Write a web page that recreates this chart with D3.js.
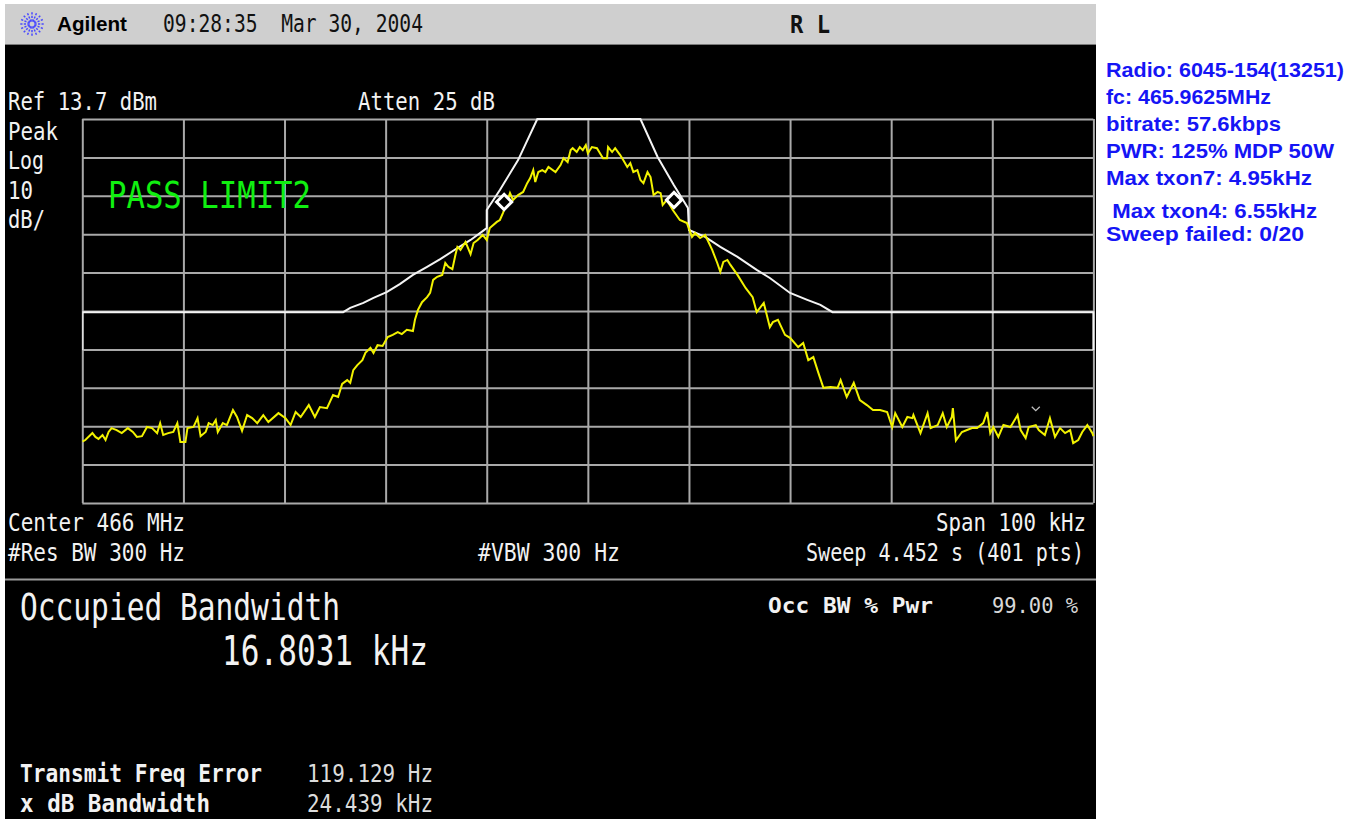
<!DOCTYPE html>
<html><head><meta charset="utf-8">
<script src="https://cdn.jsdelivr.net/npm/d3@7/dist/d3.min.js"></script>
<style>body{margin:0;background:#fff;}svg{display:block}</style>
</head><body>
<svg id="c" width="1357" height="819"></svg>
<script>
// ---------- data ----------
const refLevelDbm = 13.7;
const bottomLevelDbm = -86.3;
const freqTicksKHz = [-50, -40, -30, -20, -10, 0, 10, 20, 30, 40, 50];
const levelTicksDbm = [13.7, 3.7, -6.3, -16.3, -26.3, -36.3, -46.3, -56.3, -66.3, -76.3, -86.3];

const traceFreqKHz = [
-50.0,-49.7,-49.0,-48.7,-48.4,-48.0,-47.7,-47.4,-47.1,-46.6,-46.1,-45.5,-45.0,-44.6,-44.1,-43.6,-43.1,-42.6,-42.3,-42.0,
-41.5,-41.0,-40.6,-40.3,-39.8,-39.6,-39.0,-38.6,-38.3,-37.8,-37.5,-37.1,-36.8,-36.6,-36.1,-35.7,-35.1,-34.7,-34.2,-33.7,
-33.2,-32.7,-32.1,-31.6,-30.6,-29.9,-29.4,-28.9,-28.4,-27.6,-27.0,-26.5,-25.8,-25.2,-24.7,
-24.3,-23.8,-23.5,-23.2,-22.8,-22.3,-22.0,-21.5,-21.2,-20.8,-20.3,-19.8,-19.3,-18.8,-18.4,-17.9,-17.3,-17.1,-16.8,-16.4,
-15.9,-15.6,-15.3,-14.9,-14.4,-14.1,-13.8,-13.4,-13.1,-12.9,-12.6,-12.1,-11.6,-11.3,-10.9,-10.4,-10.0,-9.7,-9.0,-8.7,-8.4,
-8.0,-7.7,-7.4,-6.9,-6.4,-6.0,-5.7,-5.4,-5.2,-4.9,-4.5,-4.2,-3.9,-3.2,-2.7,-2.4,-2.0,-1.7,-1.5,-1.1,-0.8,-0.5,-0.2,0.0,
0.4,0.9,1.2,1.5,1.9,2.0,2.4,2.7,3.2,3.5,3.9,4.2,4.5,4.9,5.2,5.5,5.9,6.2,6.5,6.9,7.2,7.4,7.8,8.4,
9.1,9.8,10.3,10.6,11.1,11.6,12.3,12.8,13.1,13.4,13.8,14.1,14.8,15.6,16.3,16.7,17.4,18.0,18.3,18.8,19.5,20.0,20.8,21.3,
21.8,22.3,22.8,23.3,24.0,24.7,25.0,25.6,26.3,26.9,27.6,28.2,28.9,29.6,
30.1,30.4,31.1,31.6,32.1,32.2,32.9,33.6,33.9,34.6,35.1,35.5,36.0,36.1,36.4,37.0,37.5,38.0,38.5,39.1,39.5,39.8,40.1,40.6,
41.1,41.8,42.5,42.8,43.3,43.6,44.3,44.6,45.2,45.7,46.2,46.7,47.2,47.7,48.0,48.5,48.9,49.4,49.9,50.0];

const traceDbm = [
-70.3,-69.9,-68.1,-69.1,-69.6,-68.6,-69.9,-67.8,-66.8,-67.3,-68.1,-66.8,-67.8,-69.1,-68.9,-66.5,-66.8,-68.1,-65.5,-68.6,
-68.1,-67.8,-65.5,-70.4,-70.4,-66.8,-66.5,-64.2,-68.9,-67.8,-65.5,-66.0,-64.7,-67.8,-65.5,-66.0,-62.1,-63.9,-67.5,-63.4,
-64.2,-65.5,-63.4,-65.2,-62.9,-64.2,-66.0,-62.6,-63.9,-60.8,-63.9,-61.3,-61.6,-58.2,-58.7,
-55.3,-54.3,-55.0,-51.7,-50.4,-49.1,-47.2,-45.9,-47.2,-45.2,-45.4,-43.1,-42.5,-41.8,-42.3,-41.2,-41.5,-38.6,-36.0,-34.0,
-32.7,-31.6,-28.2,-27.4,-26.9,-23.8,-24.8,-25.4,-21.7,-19.6,-20.4,-18.3,-21.5,-18.6,-17.8,-16.5,-17.8,-14.7,-13.1,-12.6,-10.8,
-7.9,-5.6,-7.4,-6.1,-5.3,-3.0,-1.7,0.4,-2.7,-0.1,0.4,-0.1,1.2,-0.1,1.7,3.5,2.5,5.6,6.1,5.1,6.4,5.6,6.9,4.8,
6.4,6.1,4.8,3.5,3.5,6.4,5.1,6.1,4.3,3.0,1.2,2.2,-0.1,0.4,-2.2,-3.0,-0.1,-1.4,-6.1,-5.3,-5.6,-8.7,-7.4,-10.0,
-12.6,-13.4,-17.0,-16.0,-17.3,-16.5,-20.4,-23.8,-26.1,-23.5,-23.0,-24.3,-26.9,-30.3,-32.7,-36.6,-34.2,-40.5,-39.2,-38.6,-42.5,-43.3,-45.7,-44.6,
-49.1,-48.3,-52.4,-56.3,-56.1,-56.3,-54.3,-58.7,-55.0,-59.5,-60.8,-62.1,-62.1,-62.6,
-66.5,-62.9,-66.5,-63.9,-64.2,-63.4,-68.1,-62.9,-66.8,-66.0,-62.9,-66.5,-63.9,-61.6,-70.0,-67.8,-67.3,-66.8,-66.8,-65.5,-62.6,-68.1,-66.5,-69.1,
-66.0,-66.5,-63.4,-67.3,-69.4,-66.5,-66.0,-67.3,-68.6,-64.2,-69.1,-66.8,-68.1,-67.3,-70.7,-69.9,-67.8,-66.0,-68.1,-68.9];

const limitFreqKHz = [-50,-50,-24.2,-23.5,-22.2,-21.2,-19.9,-18.6,-17.3,-15.9,-14.6,-12.9,-11.6,-10.4,-10.0,-10.0,-8.7,-6.9,-5.0,
  5.2,6.9,8.5,9.9,10.0,11.6,13.1,14.8,16.7,18.0,20.0,21.7,23.0,24.2,50,50];
const limitDbm = [-46.5,-36.6,-36.6,-35.5,-34.2,-32.9,-31.4,-29.3,-26.9,-24.8,-22.8,-19.9,-17.8,-15.5,-14.7,-10.0,-4.8,3.0,13.7,
  13.7,3.8,-3.5,-9.5,-15.2,-17.0,-19.6,-22.2,-25.6,-27.7,-31.6,-33.4,-34.7,-36.6,-36.6,-46.5];

const obwMarkerFreqKHz = [-8.28, 8.52];
const obwMarkerDbm = [-7.9, -7.4];
const peakMarkFreqKHz = [44.3];
const peakMarkDbm = [-62.0];

const headerTexts = ["Agilent", "09:28:35  Mar 30, 2004", "R L"];
const sideNotes = ["Radio: 6045-154(13251)", "fc: 465.9625MHz", "bitrate: 57.6kbps", "PWR: 125% MDP 50W",
  "Max txon7: 4.95kHz", " Max txon4: 6.55kHz", "Sweep failed: 0/20"];

// ---------- drawing ----------
const svg = d3.select("#c");
const MONO = "'DejaVu Sans Mono', 'Liberation Mono', monospace";
const SANS = "'Liberation Sans', Arial, sans-serif";

function txt(x, y, s, o) {
  o = o || {};
  const t = svg.append("text").attr("x", x).attr("y", y).text(s)
    .attr("font-family", o.family || MONO)
    .attr("font-size", o.size || 25)
    .attr("font-weight", o.weight || "normal")
    .attr("fill", o.fill || "#f2f2f2")
    .attr("text-anchor", o.anchor || "start")
    .style("white-space", "pre");
  if (o.w) t.attr("textLength", o.w).attr("lengthAdjust", "spacingAndGlyphs");
  return t;
}

// screen background
svg.append("rect").attr("x", 5).attr("y", 4).attr("width", 1091).attr("height", 41).attr("fill", "#cfcfcf");
svg.append("line").attr("x1", 5).attr("x2", 1096).attr("y1", 44.5).attr("y2", 44.5).attr("stroke", "#7a7a7a").attr("stroke-width", 1);
svg.append("rect").attr("x", 5).attr("y", 45).attr("width", 1091).attr("height", 774).attr("fill", "#000");
svg.append("line").attr("x1", 5).attr("x2", 1096).attr("y1", 579.5).attr("y2", 579.5).attr("stroke", "#9a9a9a").attr("stroke-width", 2);

// Agilent logo (starburst)
const logo = svg.append("g").attr("transform", "translate(32,24)");
d3.range(0, 360, 22.5).forEach(a => {
  const r = a * Math.PI / 180;
  logo.append("line").attr("x1", 2.5 * Math.cos(r)).attr("y1", 2.5 * Math.sin(r))
    .attr("x2", 12 * Math.cos(r)).attr("y2", 12 * Math.sin(r))
    .attr("stroke", "#4a4aff").attr("stroke-width", 1.5).attr("stroke-dasharray", "2.2,1.3");
});

txt(57, 31, headerTexts[0], {family: SANS, weight: "bold", size: 21, fill: "#000", w: 70});
txt(163, 32, headerTexts[1], {size: 25, fill: "#111", w: 260});
txt(790, 33, headerTexts[2], {size: 25, fill: "#111", weight: "bold", w: 40});

// plot area
const X0 = 82.3, X1 = 1093.4, Y0 = 119, Y1 = 503;
const x = d3.scaleLinear().domain([-50, 50]).range([X0, X1]);
const y = d3.scaleLinear().domain([bottomLevelDbm, refLevelDbm]).range([Y1, Y0]);

const gx = svg.append("g").attr("transform", `translate(0,${Y1})`)
  .call(d3.axisBottom(x).tickValues(freqTicksKHz).tickSize(-(Y1 - Y0)).tickFormat(""));
const gy = svg.append("g").attr("transform", `translate(${X0},0)`)
  .call(d3.axisLeft(y).tickValues(levelTicksDbm).tickSize(-(X1 - X0)).tickFormat(""));
[gx, gy].forEach(g => {
  g.select(".domain").remove();
  g.selectAll(".tick line").attr("stroke", "#a9a9a9").attr("stroke-width", 2);
});

svg.append("defs").append("clipPath").attr("id", "plotclip")
  .append("rect").attr("x", X0).attr("y", Y0 - 1).attr("width", X1 - X0 + 2).attr("height", Y1 - Y0 + 2);

const trace = traceFreqKHz.map((f, i) => [f, traceDbm[i]]);
const limit = limitFreqKHz.map((f, i) => [f, limitDbm[i]]);
const line = d3.line().x(d => x(d[0])).y(d => y(d[1]));

svg.append("path").attr("d", line(limit)).attr("fill", "none")
  .attr("stroke", "#f4f4f4").attr("stroke-width", 2).attr("clip-path", "url(#plotclip)");
svg.append("path").attr("d", line(trace)).attr("fill", "none")
  .attr("stroke", "#f2f200").attr("stroke-width", 2).attr("stroke-linejoin", "miter")
  .attr("clip-path", "url(#plotclip)");

// occupied bandwidth markers (diamonds)
svg.selectAll("path.mk").data(obwMarkerFreqKHz).enter().append("path").attr("class", "mk")
  .attr("d", d3.symbol().type(d3.symbolSquare).size(115))
  .attr("transform", (d, i) => `translate(${x(d)},${y(obwMarkerDbm[i])}) rotate(45)`)
  .attr("fill", "#000").attr("stroke", "#fff").attr("stroke-width", 3);

// small peak chevron
svg.selectAll("path.pk").data(peakMarkFreqKHz).enter().append("path").attr("class", "pk")
  .attr("d", (d, i) => `M${x(d) - 4},${y(peakMarkDbm[i]) - 3}L${x(d)},${y(peakMarkDbm[i]) + 1}L${x(d) + 4},${y(peakMarkDbm[i]) - 3}`)
  .attr("fill", "none").attr("stroke", "#bdbdbd").attr("stroke-width", 1.3);

// annotations in the screen
txt(8, 110, "Ref 13.7 dBm", {w: 149});
txt(358, 110, "Atten 25 dB", {w: 137});
txt(8, 140, "Peak", {w: 50});
txt(8, 169, "Log", {w: 36});
txt(8, 199, "10", {w: 25});
txt(8, 228, "dB/", {w: 37});
txt(108, 208, "PASS LIMIT2", {size: 38, fill: "#10f010", w: 203});

txt(8, 531, "Center 466 MHz", {w: 177});
txt(936, 531, "Span 100 kHz", {w: 150});
txt(8, 561, "#Res BW 300 Hz", {w: 177});
txt(478, 561, "#VBW 300 Hz", {w: 142});
txt(806, 561, "Sweep 4.452 s (401 pts)", {w: 278});

txt(20, 620, "Occupied Bandwidth", {size: 38, w: 320});
txt(222, 665, "16.8031 kHz", {size: 40, w: 206});
txt(768, 613, "Occ BW % Pwr", {size: 22, weight: "bold", w: 165});
txt(992, 613, "99.00 %", {size: 22, w: 86, fill: "#d8d8d8"});
txt(20, 782, "Transmit Freq Error", {size: 24, weight: "bold", w: 242});
txt(307, 782, "119.129 Hz", {size: 24, w: 126, fill: "#dcdcdc"});
txt(20, 812, "x dB Bandwidth", {size: 24, weight: "bold", w: 190});
txt(307, 812, "24.439 kHz", {size: 24, w: 126, fill: "#dcdcdc"});

// side notes
const sideX = [1106, 1106, 1106, 1106, 1106, 1106, 1106];
const sideY = [77, 104, 131, 158, 185, 218, 241];
const sideW = [238, 165, 175, 228, 206, 211, 198];
sideNotes.forEach((s, i) => txt(sideX[i], sideY[i], s, {family: SANS, weight: "bold", size: 20.5, fill: "#1515f5", w: sideW[i]}));
</script>
</body></html>
